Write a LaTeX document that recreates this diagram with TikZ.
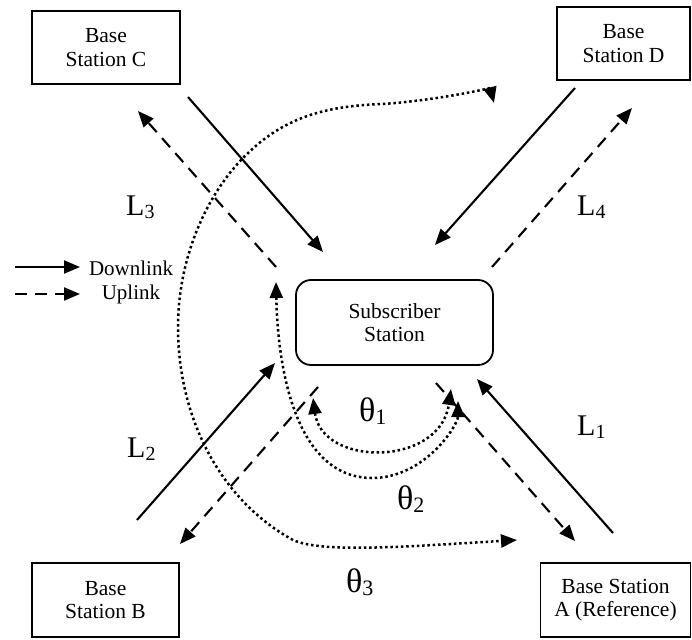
\documentclass[tikz,border=0pt]{standalone}
\usepackage{fontspec}
\setmainfont{Liberation Serif}
\usetikzlibrary{arrows.meta}
\newcommand\lsub[1]{\raisebox{-3pt}{\fontsize{20}{20}\selectfont #1}}
\newcommand\thsub[1]{\raisebox{-3pt}{\fontsize{22}{22}\selectfont #1}}
\tikzset{
  box/.style={draw, line width=1.8pt, inner sep=0pt, align=center,
    font=\fontsize{21.5}{23.5}\selectfont},
  txt/.style={inner sep=0pt, font=\fontsize{21}{23.5}\selectfont},
  headtip/.style={-{Triangle[length=16pt,width=13pt]}},
  downlink/.style={line width=2.1pt, headtip},
  uplink/.style={downlink, dash pattern=on 12pt off 8pt},
  sweep/.style={line width=2.5pt, dash pattern=on 2.5pt off 2.8pt,
    {Triangle[length=16pt,width=13pt]}-{Triangle[length=16pt,width=13pt]}},
  lbl/.style={anchor=base west, inner sep=0pt, font=\fontsize{30}{30}\selectfont},
  thl/.style={anchor=base west, inner sep=0pt, font=\fontsize{34}{34}\selectfont},
}
\begin{document}
\begin{tikzpicture}[x=1pt, y=-1pt]
\useasboundingbox (0,0) rectangle (692,639);

% stations
\node[box, minimum width=148pt, minimum height=73pt] (bsC) at (106,47.5) {Base\\Station C};
\node[box, minimum width=133pt, minimum height=73pt] (bsD) at (623.5,43.5) {Base\\Station D};
\node[box, minimum width=147pt, minimum height=74pt] (bsB) at (105.5,600) {Base\\Station B};
\node[box, minimum width=150pt, minimum height=74pt] (bsA) at (615.5,600) {Base Station\\A (Reference)};
\node[box, rounded corners=15pt, minimum width=197pt, minimum height=85pt] (ss) at (394.5,322.5) {Subscriber\\Station};

% link end points
\coordinate (cdn0) at (188,97);  \coordinate (cdn1) at (323,252);
\coordinate (cup0) at (276,267); \coordinate (cup1) at (138,111);
\coordinate (ddn0) at (575,88);  \coordinate (ddn1) at (435,245);
\coordinate (dup0) at (492,267); \coordinate (dup1) at (632,108);
\coordinate (bdn0) at (137,520); \coordinate (bdn1) at (275,363);
\coordinate (bup0) at (318,387); \coordinate (bup1) at (180,544);
\coordinate (adn0) at (613,533); \coordinate (adn1) at (477,379);
\coordinate (aup0) at (436,383); \coordinate (aup1) at (575,541);

% downlinks (solid) and uplinks (dashed)
\draw[downlink] (cdn0) -- (cdn1);
\draw[uplink]   (cup0) -- (cup1);
\draw[downlink] (ddn0) -- (ddn1);
\draw[uplink]   (dup0) -- (dup1);
\draw[downlink] (bdn0) -- (bdn1);
\draw[uplink]   (bup0) -- (bup1);
\draw[downlink] (adn0) -- (adn1);
\draw[uplink]   (aup0) -- (aup1);

% legend
\coordinate (ld0) at (15,267); \coordinate (ld1) at (80,267);
\coordinate (lu0) at (15,294); \coordinate (lu1) at (80,294);
\draw[downlink] (ld0) -- (ld1);
\draw[uplink]   (lu0) -- (lu1);
\node[txt, anchor=base] (dl) at (131,275) {Downlink};
\node[txt, anchor=base] (ul) at (131,299) {Uplink};

% angle sweeps
\coordinate (t1a) at (313,398); \coordinate (t1b) at (451,389);
\draw[sweep] (t1a) .. controls (322,467) and (440,467) .. (t1b);

\coordinate (t2a) at (276,282); \coordinate (t2m) at (372,478); \coordinate (t2b) at (458,401);
\draw[sweep] (t2a) .. controls (278,380) and (300,478) .. (t2m)
                   .. controls (425,478) and (458,425) .. (t2b);

\coordinate (t3a) at (494,103); \coordinate (t3b) at (517,540);
\draw[sweep] (t3a) .. controls (490,88) and (440,100) .. (383,104)
                   .. controls (320,106) and (280,120) .. (243,158)
                   .. controls (205,197) and (178,260) .. (178,327)
                   .. controls (178,420) and (222,501) .. (293,540)
                   .. controls (322,553) and (400,547) .. (t3b);

% labels
\node[lbl] (L1) at (577,435) {L\lsub{1}};
\node[lbl] (L2) at (127,457) {L\lsub{2}};
\node[lbl] (L3) at (126,215) {L\lsub{3}};
\node[lbl] (L4) at (577,215) {L\lsub{4}};
\node[thl] (th1) at (359,421) {θ\thsub{1}};
\node[thl] (th2) at (397,509) {θ\thsub{2}};
\node[thl] (th3) at (346,592) {θ\thsub{3}};
\end{tikzpicture}
\end{document}
